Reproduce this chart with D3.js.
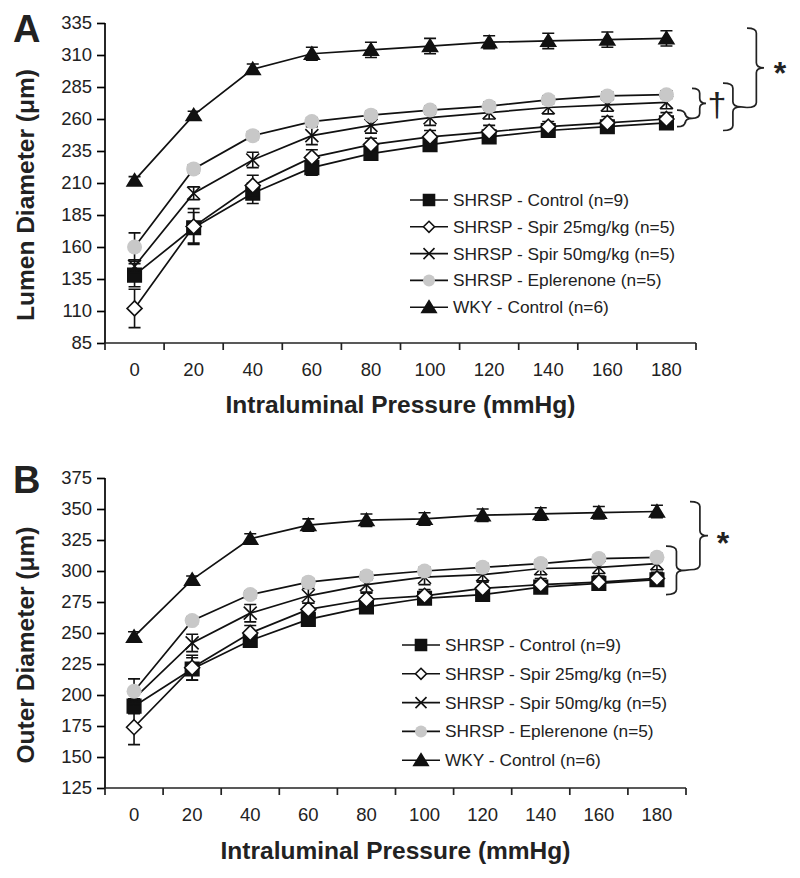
<!doctype html>
<html lang="en">
<head>
  <meta charset="utf-8">
  <script src="https://d3js.org/d3.v7.min.js"></script>
  <style>
    body { margin: 0; background: #fff; }
    text { font-family: "Liberation Sans", Arial, sans-serif; fill: #222; }
  </style>
</head>
<body>
  <script>
    // --- data ---
    var pressures = [0, 20, 40, 60, 80, 100, 120, 140, 160, 180];

    var seriesNames = ["SHRSP - Control (n=9)", "SHRSP - Spir 25mg/kg (n=5)",
                       "SHRSP - Spir 50mg/kg (n=5)", "SHRSP - Eplerenone (n=5)",
                       "WKY - Control (n=6)"];
    var seriesShapes = ["square", "diamond", "cross", "circle", "triangle"];

    // panel A: lumen diameter (um)
    var lumenControl = [138, 175, 202, 222, 233, 240, 246, 251, 254, 257];
    var lumenSpir25  = [112, 176, 208, 230, 240, 246, 250, 254, 257, 260];
    var lumenSpir50  = [145, 202, 228, 247, 255, 261, 265, 269, 271, 273];
    var lumenEpler   = [160, 221, 247, 258, 263, 267, 270, 275, 278, 279];
    var lumenWKY     = [212, 263, 299, 311, 314, 317, 320, 321, 322, 323];

    var lumenControlErr = [9, 12, 8, 6, 5, 5, 4, 4, 4, 4];
    var lumenSpir25Err  = [15, 14, 8, 6, 5, 5, 5, 4, 5, 5];
    var lumenSpir50Err  = [5, 5, 6, 7, 6, 6, 5, 5, 5, 5];
    var lumenEplerErr   = [11, 3, 3, 3, 3, 3, 3, 3, 3, 3];
    var lumenWKYErr     = [3, 3, 4, 5, 6, 6, 5, 6, 6, 6];

    // panel B: outer diameter (um)
    var outerControl = [191, 221, 244, 261, 271, 278, 281, 287, 290, 293];
    var outerSpir25  = [174, 222, 250, 269, 277, 280, 286, 289, 291, 294];
    var outerSpir50  = [197, 242, 266, 280, 289, 295, 297, 302, 303, 306];
    var outerEpler   = [203, 260, 281, 291, 296, 300, 303, 306, 310, 311];
    var outerWKY     = [247, 293, 326, 337, 341, 342, 345, 346, 347, 348];

    var outerControlErr = [6, 9, 5, 5, 4, 4, 4, 4, 4, 4];
    var outerSpir25Err  = [14, 10, 6, 5, 5, 5, 5, 5, 5, 5];
    var outerSpir50Err  = [6, 7, 7, 6, 6, 6, 5, 5, 5, 5];
    var outerEplerErr   = [10, 3, 3, 3, 3, 3, 3, 3, 3, 3];
    var outerWKYErr     = [4, 3, 4, 5, 5, 5, 5, 5, 5, 5];

    var lumenTicks = d3.range(85, 336, 25);
    var outerTicks = d3.range(125, 376, 25);

    var width = 800, height = 878;

    var svg = d3.select("body").append("svg")
        .attr("width", width)
        .attr("height", height);

    // marker shapes, s = nominal size in px
    function shapePath(shape, s) {
      var h = s / 2;
      if (shape === "square") return "M" + (-h) + "," + (-h) + "h" + s + "v" + s + "h" + (-s) + "Z";
      if (shape === "diamond") return "M0," + (-h) + "L" + h + ",0L0," + h + "L" + (-h) + ",0Z";
      if (shape === "triangle") return "M0," + (-h) + "L" + (h * 1.1) + "," + (h * 0.8) + "L" + (-h * 1.1) + "," + (h * 0.8) + "Z";
      if (shape === "cross") return "M" + (-h) + "," + (-h) + "L" + h + "," + h + "M" + h + "," + (-h) + "L" + (-h) + "," + h;
      return null;
    }

    function drawMarker(g, shape, s) {
      if (shape === "circle") {
        g.append("circle").attr("r", s / 2).attr("fill", "#c8c8c8").attr("stroke", "none");
        return;
      }
      var p = g.append("path").attr("d", shapePath(shape, s))
          .attr("stroke", "#111").attr("stroke-width", 1.6);
      if (shape === "diamond") p.attr("fill", "#fff");
      else if (shape === "cross") p.attr("fill", "none");
      else p.attr("fill", "#111");
    }

    function brace(g, x0, yTop, yBot, w) {
      // curly brace opening to the left, tip pointing right
      var xm = x0 + w * 0.55, xt = x0 + w, ym = (yTop + yBot) / 2, r = 5;
      var d = "M" + x0 + "," + yTop +
              "Q" + xm + "," + yTop + " " + xm + "," + (yTop + r) +
              "L" + xm + "," + (ym - r) +
              "Q" + xm + "," + ym + " " + xt + "," + ym +
              "Q" + xm + "," + ym + " " + xm + "," + (ym + r) +
              "L" + xm + "," + (yBot - r) +
              "Q" + xm + "," + yBot + " " + x0 + "," + yBot;
      g.append("path").attr("d", d).attr("fill", "none")
          .attr("stroke", "#222").attr("stroke-width", 1.7);
      return [xt, ym];
    }

    function drawPanel(cfg) {
      var g = svg.append("g");

      var x = d3.scaleBand().domain(pressures).range([cfg.left, cfg.right]);
      var y = d3.scaleLinear().domain(cfg.domain).range([cfg.bottom, cfg.top]);
      var cx = function(d) { return x(d) + x.bandwidth() / 2; };

      // axes
      var yAxis = d3.axisLeft(y).tickValues(cfg.ticks).tickSize(8).tickPadding(5);
      var gy = g.append("g").attr("transform", "translate(" + cfg.left + ",0)").call(yAxis);
      gy.select(".domain").attr("stroke-width", 1.7).attr("d", "M0," + y(cfg.domain[1]) + "V" + y(cfg.domain[0]));
      gy.selectAll(".tick line").attr("stroke-width", 1.7);
      gy.selectAll(".tick text").style("font-size", "18.5px").attr("fill", "#222");

      var gx = g.append("g");
      gx.append("line").attr("x1", cfg.left).attr("x2", cfg.right)
          .attr("y1", cfg.bottom).attr("y2", cfg.bottom)
          .attr("stroke", "#222").attr("stroke-width", 1.7);
      gx.selectAll(".xt").data(pressures.concat(["end"])).enter().append("line")
          .attr("x1", function(d) { return d === "end" ? cfg.right : x(d); })
          .attr("x2", function(d) { return d === "end" ? cfg.right : x(d); })
          .attr("y1", cfg.bottom).attr("y2", cfg.bottom + 7)
          .attr("stroke", "#222").attr("stroke-width", 1.7);
      gx.selectAll(".xl").data(pressures).enter().append("text")
          .attr("x", cx).attr("y", cfg.bottom + 33)
          .attr("text-anchor", "middle").style("font-size", "18.5px")
          .text(function(d) { return d; });

      g.append("text").attr("x", (cfg.left + cfg.right) / 2).attr("y", cfg.xTitleY)
          .attr("text-anchor", "middle").style("font-size", "24.5px").style("font-weight", "bold")
          .text("Intraluminal Pressure (mmHg)");
      g.append("text").attr("transform", "translate(34," + cfg.yTitleC + ") rotate(-90)")
          .attr("text-anchor", "middle").style("font-size", "24.5px").style("font-weight", "bold")
          .text(cfg.yTitle);
      g.append("text").attr("x", 13).attr("y", cfg.letterY)
          .style("font-size", "38px").style("font-weight", "bold").attr("fill", "#111")
          .text(cfg.letter);

      // series lines
      var line = d3.line().x(function(d) { return cx(d.p); }).y(function(d) { return y(d.v); });
      cfg.series.forEach(function(s) {
        var pts = pressures.map(function(p, i) { return { p: p, v: s.values[i], e: s.errors[i] }; });
        g.append("path").datum(pts).attr("d", line)
            .attr("fill", "none").attr("stroke", "#111").attr("stroke-width", 1.7);
        s.pts = pts;
      });
      // error bars + markers
      cfg.series.forEach(function(s) {
        var eg = g.append("g");
        s.pts.forEach(function(d) {
          var xx = cx(d.p);
          eg.append("path")
              .attr("d", "M" + xx + "," + y(d.v + d.e) + "V" + y(d.v - d.e) +
                         "M" + (xx - 6) + "," + y(d.v + d.e) + "h12" +
                         "M" + (xx - 6) + "," + y(d.v - d.e) + "h12")
              .attr("stroke", "#111").attr("stroke-width", 1.6).attr("fill", "none");
        });
        s.pts.forEach(function(d) {
          var mg = g.append("g").attr("transform", "translate(" + cx(d.p) + "," + y(d.v) + ")");
          drawMarker(mg, s.shape, s.shape === "circle" ? 15 : s.shape === "diamond" ? 15 : s.shape === "cross" ? 13 : 13.5);
        });
      });

      // legend
      seriesNames.forEach(function(name, i) {
        var ly = cfg.legY + i * cfg.legStep;
        g.append("line").attr("x1", cfg.legX).attr("x2", cfg.legX + 38)
            .attr("y1", ly).attr("y2", ly).attr("stroke", "#111").attr("stroke-width", 1.6);
        var mg = g.append("g").attr("transform", "translate(" + (cfg.legX + 19) + "," + ly + ")");
        var sh = seriesShapes[i];
        drawMarker(mg, sh, sh === "circle" ? 12 : sh === "triangle" ? 13 : sh === "diamond" ? 11 : sh === "cross" ? 11 : 11);
        g.append("text").attr("x", cfg.legX + 43).attr("y", ly + 6)
            .style("font-size", "17.3px").text(name);
      });

      cfg.annotate(g, y);
    }

    drawPanel({
      letter: "A", letterY: 42,
      left: 105, right: 696, top: 23, bottom: 343,
      domain: [85, 335], ticks: lumenTicks,
      xTitleY: 413, yTitle: "Lumen Diameter (\u03bcm)", yTitleC: 195,
      legX: 410, legY: 200, legStep: 26.8,
      series: [
        { shape: "square", values: lumenControl, errors: lumenControlErr },
        { shape: "diamond", values: lumenSpir25, errors: lumenSpir25Err },
        { shape: "cross", values: lumenSpir50, errors: lumenSpir50Err },
        { shape: "circle", values: lumenEpler, errors: lumenEplerErr },
        { shape: "triangle", values: lumenWKY, errors: lumenWKYErr }
      ],
      annotate: function(g, y) {
        var t1 = brace(g, 677, y(267), y(254), 15);
        // upper small brace: its lower end meets the tip of the brace below
        var yTop2 = y(284), yBot2 = t1[1];
        brace(g, t1[0], yTop2, yBot2, 14);
        var t3 = brace(g, 723, y(288), y(251), 18);
        var t4 = brace(g, 747, y(331), y(269), 17);
        g.append("line").attr("x1", t3[0]).attr("x2", 747).attr("y1", t3[1]).attr("y2", y(269))
            .attr("stroke", "#222").attr("stroke-width", 1.7);
        g.append("text").attr("x", 717).attr("y", 116).attr("text-anchor", "middle")
            .style("font-size", "34px").text("\u2020");
        g.append("text").attr("x", 780).attr("y", t4[1] + 16).attr("text-anchor", "middle")
            .style("font-size", "32px").style("font-weight", "bold").text("*");
      }
    });

    drawPanel({
      letter: "B", letterY: 493,
      left: 105, right: 686, top: 478, bottom: 788,
      domain: [125, 375], ticks: outerTicks,
      xTitleY: 859, yTitle: "Outer Diameter (\u03bcm)", yTitleC: 645,
      legX: 402, legY: 645, legStep: 28.8,
      series: [
        { shape: "square", values: outerControl, errors: outerControlErr },
        { shape: "diamond", values: outerSpir25, errors: outerSpir25Err },
        { shape: "cross", values: outerSpir50, errors: outerSpir50Err },
        { shape: "circle", values: outerEpler, errors: outerEplerErr },
        { shape: "triangle", values: outerWKY, errors: outerWKYErr }
      ],
      annotate: function(g, y) {
        var t1 = brace(g, 666, y(320), y(281), 19);
        var t2 = brace(g, 690, y(356), y(301), 18);
        g.append("line").attr("x1", t1[0]).attr("x2", 690).attr("y1", t1[1]).attr("y2", y(301))
            .attr("stroke", "#222").attr("stroke-width", 1.7);
        g.append("text").attr("x", 723).attr("y", t2[1] + 18).attr("text-anchor", "middle")
            .style("font-size", "32px").style("font-weight", "bold").text("*");
      }
    });
  </script>
</body>
</html>
